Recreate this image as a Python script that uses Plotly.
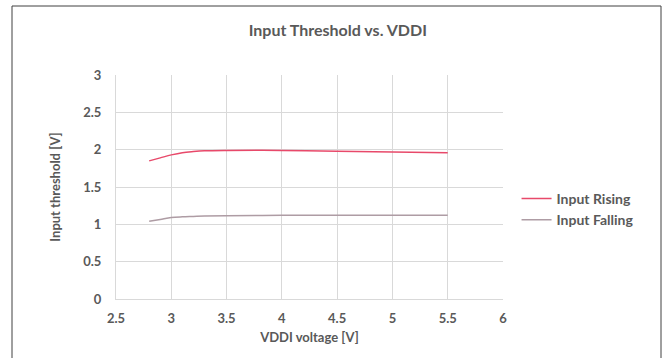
import plotly.graph_objects as go

vddi = [2.8, 2.9, 3.0, 3.1, 3.2, 3.3, 3.5, 4.0, 4.5, 5.0, 5.5]
rising = [1.85, 1.89, 1.93, 1.96, 1.975, 1.985, 1.99, 1.99, 1.98, 1.97, 1.96]
falling = [1.04, 1.065, 1.09, 1.10, 1.105, 1.11, 1.115, 1.12, 1.12, 1.12, 1.12]

x_ticks = [2.5, 3, 3.5, 4, 4.5, 5, 5.5, 6]
y_ticks = [0, 0.5, 1, 1.5, 2, 2.5, 3]

FONT = "Lato"
TXT = "#595959"
GRID = "#D9D9D9"

fig = go.Figure()
fig.add_trace(go.Scatter(x=vddi, y=rising, mode="lines", name="<b>Input Rising</b>",
                         line=dict(color="#E8496A", width=1.5, shape="spline")))
fig.add_trace(go.Scatter(x=vddi, y=falling, mode="lines", name="<b>Input Falling</b>",
                         line=dict(color="#AE9CA4", width=1.5, shape="spline")))

fig.update_layout(
    width=665, height=358,
    margin=dict(l=116, r=162, t=75, b=59),
    paper_bgcolor="white", plot_bgcolor="white",
    font=dict(family=FONT, color=TXT, size=13),
    title=dict(text="<b>Input Threshold vs. VDDI</b>", x=0.508, xanchor="center",
               y=1 - 30/358, yanchor="middle", font=dict(size=16, color=TXT, family=FONT)),
    xaxis=dict(range=[2.5, 6], tickvals=x_ticks, ticktext=[f"<b>{v:g}</b>" for v in x_ticks],
               tickfont=dict(size=13),
               showgrid=True, gridcolor=GRID, gridwidth=1, zeroline=False,
               showline=True, linecolor=GRID, linewidth=1, mirror=False, ticks="",
               ticklabelstandoff=7,
               title=dict(text="<b>VDDI voltage [V]</b>", font=dict(size=13, color=TXT), standoff=8),
               fixedrange=True),
    yaxis=dict(range=[0, 3], tickvals=y_ticks, ticktext=[f"<b>{v:g}</b>" for v in y_ticks],
               tickfont=dict(size=13),
               showgrid=True, gridcolor=GRID, gridwidth=1, zeroline=False,
               showline=True, linecolor=GRID, linewidth=1, ticks="", ticklabelstandoff=11,
               title=dict(text="<b>Input threshold [V]</b>", font=dict(size=13, color=TXT), standoff=19),
               fixedrange=True),
    legend=dict(x=1.035, y=0.40, xanchor="left", yanchor="middle",
                font=dict(size=14, color=TXT, family=FONT), bgcolor="rgba(0,0,0,0)",
                itemwidth=30, tracegroupgap=0),
    shapes=[dict(type="rect", xref="paper", yref="paper",
                 x0=(12-116)/387, x1=(661-116)/387, y0=(299-370)/224, y1=(299-6)/224,
                 line=dict(color="#404040", width=1), fillcolor="rgba(0,0,0,0)", layer="below")],
)

fig.write_html("out.html")
